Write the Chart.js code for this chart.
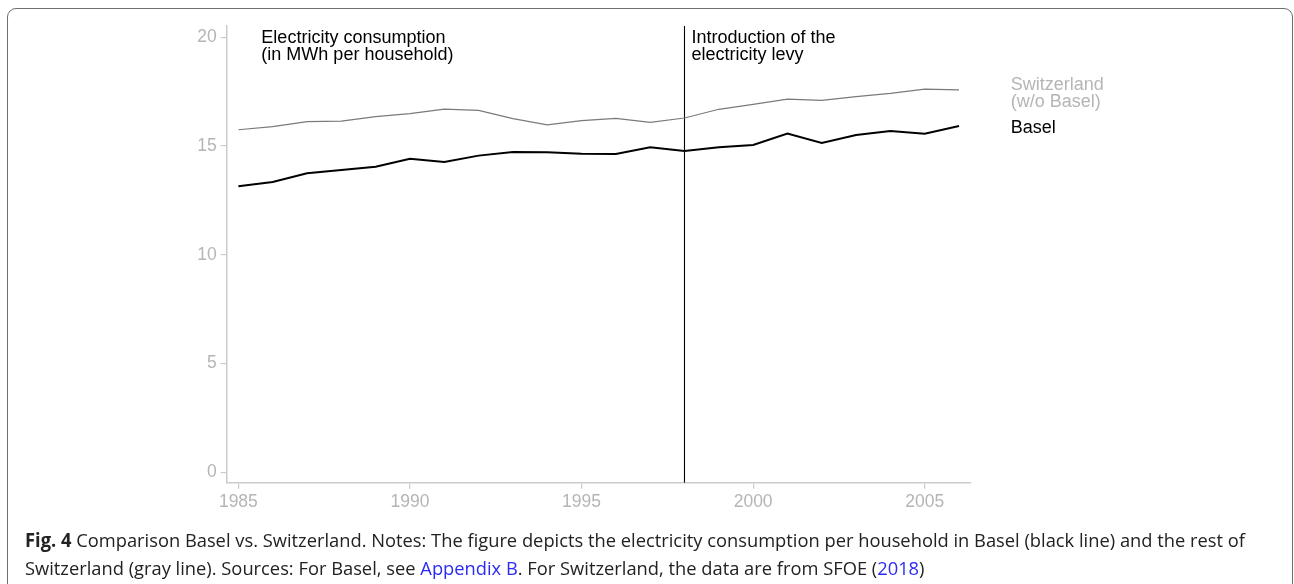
<!DOCTYPE html>
<html>
<head>
<meta charset="utf-8">
<script src="https://cdn.jsdelivr.net/npm/chart.js@4.4.1/dist/chart.umd.min.js"></script>
<style>
  html, body { margin:0; padding:0; background:#fff; }
  body { width:1294px; height:584px; overflow:hidden; position:relative; }
  #frame { position:absolute; left:7px; top:8px; width:1286px; height:640px; box-sizing:border-box;
           border:1.5px solid #6f6f6f; border-radius:9px; }
  #chartBox { position:absolute; left:0; top:0; width:1294px; height:584px; }
  .cap { position:absolute; left:25px; font-family:"Open Sans", sans-serif; font-size:19px; color:#222;
         white-space:nowrap; transform-origin:0 50%; }
  .cap b { font-weight:700; }
  .cap a { color:#2b2bf5; text-decoration:none; }
</style>
</head>
<body>
<div id="frame"></div>
<div id="chartBox"><canvas id="consumoChart" width="1294" height="584"></canvas></div>
<div class="cap" id="cap1" style="top:527px"><b>Fig. 4</b> Comparison Basel vs. Switzerland. Notes: The figure depicts the electricity consumption per household in Basel (black line) and the rest of</div>
<div class="cap" id="cap2" style="top:555px">Switzerland (gray line). Sources: For Basel, see <a>Appendix B</a>. For Switzerland, the data are from SFOE (<a>2018</a>)</div>
<script>
const years = [1985,1986,1987,1988,1989,1990,1991,1992,1993,1994,1995,1996,1997,1998,1999,2000,2001,2002,2003,2004,2005,2006];
const basel = [13.15,13.35,13.75,13.90,14.05,14.42,14.27,14.56,14.73,14.71,14.65,14.64,14.94,14.77,14.94,15.05,15.57,15.14,15.51,15.69,15.57,15.92];
const switzerland = [15.75,15.89,16.12,16.15,16.35,16.49,16.70,16.64,16.26,15.97,16.17,16.27,16.09,16.29,16.69,16.92,17.16,17.10,17.27,17.42,17.62,17.58];
const levyYear = 1998;
const xTicks = [1985,1990,1995,2000,2005];
const yTicks = [0,5,10,15,20];

const X_MIN = 1984.66, X_MAX = 2006.34;
const Y_MIN = -0.48, Y_MAX = 20.52;
const FONT = '"Liberation Sans", Arial, sans-serif';
const TICK_GRAY = "#b5b5b5";
const AXIS_GRAY = "#cccccc";

function puntos(valores){
  return years.map((y,i) => ({x:y, y:valores[i]}));
}

// textos de anotación y etiquetas de series
const anotaciones = {
  id:"anotaciones",
  afterDraw(chart){
    const {ctx, chartArea, scales:{x, y}} = chart;
    ctx.save();
    ctx.font = "18px " + FONT;
    ctx.textAlign = "left";
    ctx.textBaseline = "middle";
    ctx.fillStyle = "#000";
    const top = y.getPixelForValue(20) + 1;
    const xa = x.getPixelForValue(years[0]) + 23;
    ctx.fillText("Electricity consumption", xa, top);
    ctx.fillText("(in MWh per household)", xa, top + 17);
    const xl = x.getPixelForValue(levyYear) + 7;
    ctx.fillText("Introduction of the", xl, top);
    ctx.fillText("electricity levy", xl, top + 17);

    const xr = chartArea.right + 40;
    const ySw = y.getPixelForValue(switzerland[switzerland.length-1]);
    ctx.fillStyle = TICK_GRAY;
    ctx.fillText("Switzerland", xr, ySw - 5);
    ctx.fillText("(w/o Basel)", xr, ySw + 12);
    const yBa = y.getPixelForValue(basel[basel.length-1]);
    ctx.fillStyle = "#000";
    ctx.fillText("Basel", xr, yBa + 2);
    ctx.restore();
  }
};

new Chart(document.getElementById("consumoChart"), {
  type:"line",
  data:{
    datasets:[
      { label:"Switzerland (w/o Basel)", data:puntos(switzerland), borderColor:"#7a7a7a", borderWidth:1.2,
        pointRadius:0, tension:0, fill:false },
      { label:"Basel", data:puntos(basel), borderColor:"#000", borderWidth:2,
        pointRadius:0, tension:0, fill:false },
      { label:"Levy", data:[{x:levyYear, y:Y_MIN}, {x:levyYear, y:Y_MAX}], borderColor:"#000", borderWidth:1.1,
        pointRadius:0, fill:false }
    ]
  },
  plugins:[anotaciones],
  options:{
    responsive:false,
    animation:false,
    events:[],
    layout:{ padding:{ left:0, right:323.3, top:26, bottom:61.3 } },
    plugins:{ legend:{ display:false }, tooltip:{ enabled:false } },
    scales:{
      x:{
        type:"linear", min:X_MIN, max:X_MAX,
        afterBuildTicks: s => { s.ticks = xTicks.map(v => ({value:v})); },
        afterFit: s => { s.height = 40; },
        border:{ display:true, color:AXIS_GRAY, width:1.5 },
        grid:{ drawOnChartArea:false, drawTicks:true, tickLength:6, color:AXIS_GRAY, lineWidth:1.2 },
        ticks:{ color:TICK_GRAY, font:{ family:FONT, size:17.5 }, padding:3, maxRotation:0,
                callback: v => String(v) }
      },
      y:{
        type:"linear", min:Y_MIN, max:Y_MAX,
        afterBuildTicks: s => { s.ticks = yTicks.map(v => ({value:v})); },
        afterFit: s => { s.width = 226.7; },
        border:{ display:true, color:AXIS_GRAY, width:1.5 },
        grid:{ drawOnChartArea:false, drawTicks:true, tickLength:6, color:AXIS_GRAY, lineWidth:1.2 },
        ticks:{ color:TICK_GRAY, font:{ family:FONT, size:17.5 }, padding:4 }
      }
    }
  }
});

// ajustar el ancho del pie de figura
const anchoObjetivo = 1220;
const cap1 = document.getElementById("cap1");
const cap2 = document.getElementById("cap2");
const escala = anchoObjetivo / cap1.getBoundingClientRect().width;
cap1.style.transform = "scaleX(" + escala + ")";
cap2.style.transform = "scaleX(" + escala + ")";
</script>
</body>
</html>
